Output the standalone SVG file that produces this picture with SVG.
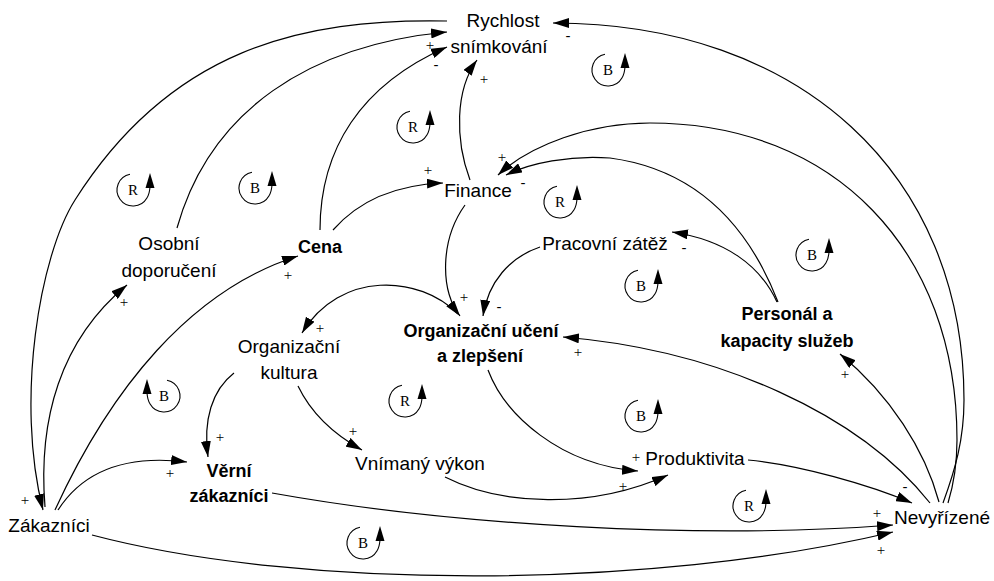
<svg xmlns="http://www.w3.org/2000/svg" xmlns:xlink="http://www.w3.org/1999/xlink" width="994" height="581" viewBox="0 0 994 581">
<style>
.n{font-family:"Liberation Sans",Arial,sans-serif;font-size:19px;text-anchor:middle;fill:#000}
.b{font-weight:bold;font-size:18px}
.s{font-family:"Liberation Serif","Times New Roman",serif;font-size:15px;text-anchor:middle;fill:#000}
.m{font-family:"Liberation Sans",Arial,sans-serif;font-size:15px;text-anchor:middle;fill:#000}
.c{fill:none;stroke:#000;stroke-width:1.2;marker-end:url(#ah)}
.l{font-family:"Liberation Serif","Times New Roman",serif;font-size:15px;text-anchor:middle;fill:#000}
</style>
<defs>
<marker id="ah" viewBox="0 0 16 10" refX="16" refY="5" markerWidth="16" markerHeight="10" orient="auto" markerUnits="userSpaceOnUse">
<path d="M0,0 L16,5 L0,10 z" fill="#000"/>
</marker>
<g id="lp">
<path d="M -3,-15.7 A 16 16 0 1 0 13.9,8 Q 16.5,4 17,-3" fill="none" stroke="#000" stroke-width="1.1"/>
<polygon points="17,-17 12.5,-2 21.5,-2" fill="#000"/>
</g>
</defs>
<rect width="994" height="581" fill="#fff"/>

<g id="connectors">
<path class="c" d="M 447,21 C 300,18 170,50 75,200 C 40,255 15,400 43,510"/>
<path class="c" d="M 177,228 C 210,110 310,45 447,32"/>
<path class="c" d="M 320,230 C 320,150 360,85 447,47"/>
<path class="c" d="M 470,180 C 455,140 455,90 477,60"/>
<path class="c" d="M 943,503 C 955,470 964,440 964,400 C 964,174 800,23 553,23"/>
<path class="c" d="M 948,503 C 955,480 957,460 957,440 C 957,250 834,123 650,123 C 590,123 530,145 498,175"/>
<path class="c" d="M 778,302 C 750,230 700,170 610,158 C 570,155 530,163 506,175"/>
<path class="c" d="M 777,302 C 760,265 725,240 672,232"/>
<path class="c" d="M 333,230 C 355,205 390,185 443,183"/>
<path class="c" d="M 465,205 C 440,240 440,290 460,316"/>
<path class="c" d="M 540,247 C 510,257 488,282 483,316"/>
<path class="c" d="M 458,314 C 420,275 340,270 302,333"/>
<path class="c" d="M 234,373 C 212,390 203,420 208,457"/>
<path class="c" d="M 298,386 C 312,415 335,435 362,450"/>
<path class="c" d="M 488,370 C 505,415 560,465 638,471"/>
<path class="c" d="M 445,477 C 500,505 590,510 668,475"/>
<path class="c" d="M 748,460 C 800,465 870,485 912,503"/>
<path class="c" d="M 939,502 C 925,450 890,395 840,354"/>
<path class="c" d="M 930,503 C 860,415 720,350 563,337"/>
<path class="c" d="M 92,535 C 300,590 650,590 893,532"/>
<path class="c" d="M 272,493 C 450,525 700,540 893,525"/>
<path class="c" d="M 58,510 C 85,468 130,455 187,462"/>
<path class="c" d="M 55,510 C 110,390 190,290 298,256"/>
<path class="c" d="M 45,507 C 38,420 60,340 127,285"/>
</g>

<g id="signs">
<text class="s" x="25" y="505">+</text>
<text class="s" x="124" y="307">+</text>
<text class="s" x="288" y="280">+</text>
<text class="s" x="170" y="478">+</text>
<text class="s" x="220" y="442">+</text>
<text class="s" x="320" y="333">+</text>
<text class="s" x="353" y="436">+</text>
<text class="s" x="464" y="302">+</text>
<text class="m" x="499" y="312">-</text>
<text class="s" x="578" y="357">+</text>
<text class="s" x="636" y="462">+</text>
<text class="s" x="623" y="491">+</text>
<text class="m" x="905" y="492">-</text>
<text class="s" x="877" y="518">+</text>
<text class="s" x="881" y="555">+</text>
<text class="s" x="845" y="379">+</text>
<text class="m" x="684" y="253">-</text>
<text class="s" x="502" y="162">+</text>
<text class="m" x="523" y="188">-</text>
<text class="s" x="428" y="175">+</text>
<text class="s" x="484" y="84">+</text>
<text class="s" x="430" y="50">+</text>
<text class="m" x="436" y="70">-</text>
<text class="m" x="568" y="41">-</text>
</g>

<g id="loops">
<use xlink:href="#lp" href="#lp" transform="translate(133,190)"/><text class="l" x="133" y="195">R</text>
<use xlink:href="#lp" href="#lp" transform="translate(255,188)"/><text class="l" x="255" y="193">B</text>
<use xlink:href="#lp" href="#lp" transform="translate(413,127)"/><text class="l" x="413" y="132">R</text>
<use xlink:href="#lp" href="#lp" transform="translate(608,70)"/><text class="l" x="608" y="75">B</text>
<use xlink:href="#lp" href="#lp" transform="translate(560,202)"/><text class="l" x="560" y="207">R</text>
<use xlink:href="#lp" href="#lp" transform="translate(641,286)"/><text class="l" x="641" y="291">B</text>
<use xlink:href="#lp" href="#lp" transform="translate(812,255)"/><text class="l" x="812" y="260">B</text>
<use xlink:href="#lp" href="#lp" transform="translate(164,396) scale(-1,1)"/><text class="l" x="164" y="401">B</text>
<use xlink:href="#lp" href="#lp" transform="translate(405,401)"/><text class="l" x="405" y="406">R</text>
<use xlink:href="#lp" href="#lp" transform="translate(641,416)"/><text class="l" x="641" y="421">B</text>
<use xlink:href="#lp" href="#lp" transform="translate(363,543)"/><text class="l" x="363" y="548">B</text>
<use xlink:href="#lp" href="#lp" transform="translate(749,506)"/><text class="l" x="749" y="511">R</text>
</g>

<g id="rychlost"><text class="n" x="503" y="27">Rychlost</text><text class="n" x="499" y="53">snímkování</text></g>
<g id="finance"><text class="n" x="478" y="197">Finance</text></g>
<g id="cena"><text class="n b" x="320" y="253">Cena</text></g>
<g id="osobni"><text class="n" x="169" y="250">Osobní</text><text class="n" x="169" y="277">doporučení</text></g>
<g id="pracovni"><text class="n" x="605" y="250">Pracovní zátěž</text></g>
<g id="uceni"><text class="n b" x="481" y="337">Organizační učení</text><text class="n b" x="480" y="362">a zlepšení</text></g>
<g id="personal"><text class="n b" x="787" y="320">Personál a</text><text class="n b" x="787" y="347">kapacity služeb</text></g>
<g id="kultura"><text class="n" x="289" y="353">Organizační</text><text class="n" x="289" y="379">kultura</text></g>
<g id="verni"><text class="n b" x="229" y="477">Věrní</text><text class="n b" x="229" y="502">zákazníci</text></g>
<g id="vnimany"><text class="n" x="420" y="470">Vnímaný výkon</text></g>
<g id="produktivita"><text class="n" x="695" y="465">Produktivita</text></g>
<g id="zakaznici"><text class="n" x="49" y="532">Zákazníci</text></g>
<g id="nevyrizene"><text class="n" x="942" y="524">Nevyřízené</text></g>
</svg>
